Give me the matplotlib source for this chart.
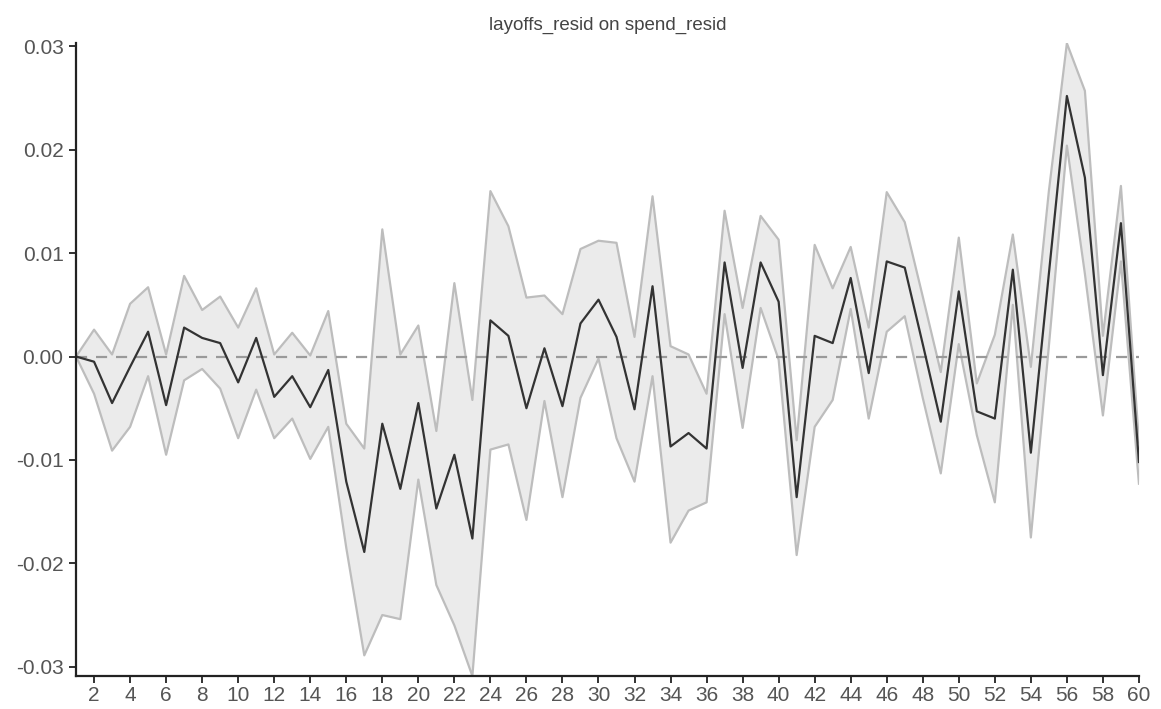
import numpy as np
import matplotlib
matplotlib.use("Agg")
import matplotlib.pyplot as plt
from matplotlib.ticker import FormatStrFormatter

plt.rcParams["font.family"] = ["Liberation Sans", "DejaVu Sans"]
plt.rcParams["axes.unicode_minus"] = False

# impulse response of layoffs_resid to spend_resid, periods 1..60
periods = list(range(1, 61))

irf = [0.0000, -0.0005, -0.0045, -0.0010, 0.0024, -0.0047, 0.0028, 0.0018, 0.0013, -0.0025,
       0.0018, -0.0039, -0.0019, -0.0049, -0.0013, -0.0121, -0.0189, -0.0065, -0.0128, -0.0045,
       -0.0147, -0.0095, -0.0176, 0.0035, 0.0020, -0.0050, 0.0008, -0.0048, 0.0032, 0.0055,
       0.0019, -0.0051, 0.0068, -0.0087, -0.0074, -0.0089, 0.0091, -0.0011, 0.0091, 0.0053,
       -0.0136, 0.0020, 0.0013, 0.0076, -0.0016, 0.0092, 0.0086, 0.0012, -0.0063, 0.0063,
       -0.0053, -0.0060, 0.0084, -0.0093, 0.0080, 0.0252, 0.0173, -0.0018, 0.0129, -0.0102]

upper = [0.0000, 0.0026, 0.0002, 0.0051, 0.0067, 0.0002, 0.0078, 0.0045, 0.0058, 0.0028,
         0.0066, 0.0002, 0.0023, 0.0001, 0.0044, -0.0065, -0.0089, 0.0123, 0.0002, 0.0030,
         -0.0072, 0.0071, -0.0042, 0.0160, 0.0126, 0.0057, 0.0059, 0.0041, 0.0104, 0.0112,
         0.0110, 0.0019, 0.0155, 0.0010, 0.0002, -0.0036, 0.0141, 0.0047, 0.0136, 0.0113,
         -0.0081, 0.0108, 0.0066, 0.0106, 0.0028, 0.0159, 0.0130, 0.0058, -0.0015, 0.0115,
         -0.0026, 0.0021, 0.0118, -0.0010, 0.0160, 0.0303, 0.0257, 0.0020, 0.0165, -0.0083]

lower = [0.0000, -0.0036, -0.0091, -0.0068, -0.0019, -0.0095, -0.0023, -0.0012, -0.0031, -0.0079,
         -0.0032, -0.0079, -0.0060, -0.0099, -0.0068, -0.0185, -0.0289, -0.0250, -0.0254, -0.0119,
         -0.0221, -0.0260, -0.0309, -0.0090, -0.0085, -0.0158, -0.0043, -0.0136, -0.0040, -0.0002,
         -0.0079, -0.0121, -0.0019, -0.0180, -0.0149, -0.0141, 0.0041, -0.0069, 0.0047, -0.0003,
         -0.0192, -0.0068, -0.0042, 0.0046, -0.0060, 0.0024, 0.0039, -0.0040, -0.0113, 0.0012,
         -0.0076, -0.0141, 0.0050, -0.0175, 0.0010, 0.0204, 0.0080, -0.0057, 0.0092, -0.0123]

fig = plt.figure(figsize=(11.61, 7.09), dpi=100)
ax = fig.add_axes([0.0655, 0.0465, 0.9155, 0.8925])

ax.fill_between(periods, lower, upper, color="#ebebeb", lw=0)
ax.plot(periods, upper, color="#bdbdbd", lw=1.6)
ax.plot(periods, lower, color="#bdbdbd", lw=1.6)
ax.axhline(0, color="#9a9a9a", lw=1.6, ls=(0, (5, 4)))
ax.plot(periods, irf, color="#333333", lw=1.6)

ax.set_xlim(1, 60)
ax.set_ylim(min(lower), max(upper))
ax.set_xticks(range(2, 61, 2))
ax.set_yticks([-0.03, -0.02, -0.01, 0.0, 0.01, 0.02, 0.03])
ax.yaxis.set_major_formatter(FormatStrFormatter("%.2f"))

for side in ("top", "right"):
    ax.spines[side].set_visible(False)
for side in ("left", "bottom"):
    ax.spines[side].set_color("#222222")
    ax.spines[side].set_linewidth(1.6)
ax.tick_params(direction="out", length=5, width=1.3, color="#222222",
               labelcolor="#555555", labelsize=15)
ax.tick_params(axis="y", pad=4)
ax.tick_params(axis="x", pad=2)

ax.set_title("layoffs_resid on spend_resid", fontsize=13.5, color="#444444", pad=10)

fig.savefig("out.png", dpi=100)
